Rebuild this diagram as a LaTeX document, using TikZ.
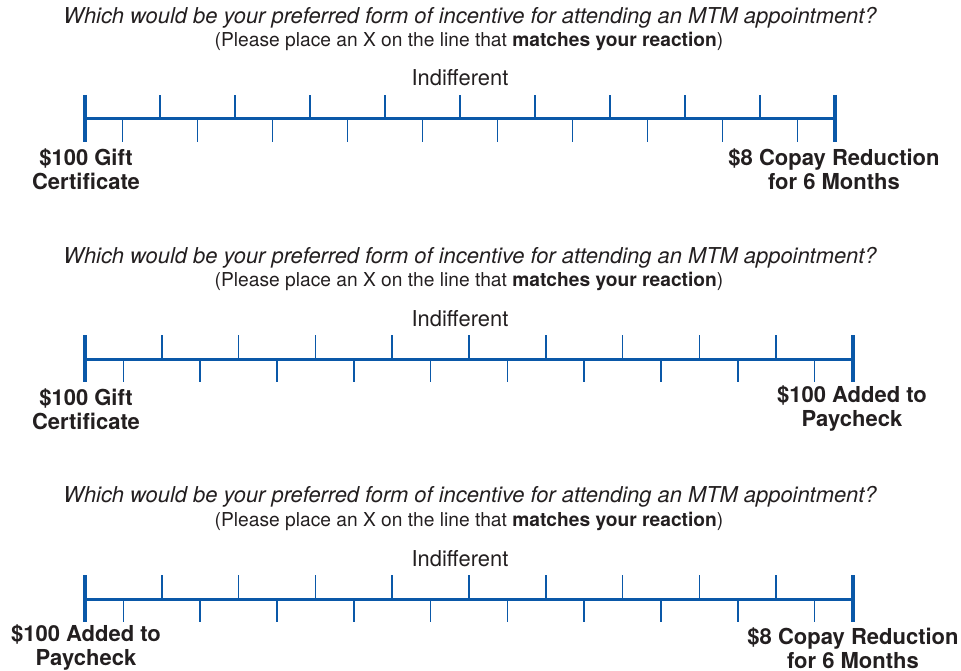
\documentclass[tikz,border=0pt]{standalone}
\usepackage{fontspec}
\setmainfont{TeX Gyre Heros}
\usetikzlibrary{calc}
\definecolor{scaleblue}{RGB}{10,88,168}
\definecolor{inktext}{RGB}{35,31,32}

\begin{document}
\begin{tikzpicture}[
    x=1pt, y=-1pt,
    question/.style={font=\fontsize{21.9}{25}\selectfont\itshape, text=inktext, inner sep=0pt},
    hint/.style={font=\fontsize{19.2}{22}\selectfont, text=inktext, inner sep=0pt},
    mid/.style={font=\fontsize{21.9}{25}\selectfont, text=inktext, inner sep=0pt},
    anchorlbl/.style={font=\fontsize{22}{24}\selectfont\bfseries, text=inktext, align=center, inner sep=0pt},
    axis/.style={draw=scaleblue, line width=3pt},
    endtick/.style={draw=scaleblue, line width=3.2pt},
    tick/.style={draw=scaleblue, line width=1.6pt}
]
\useasboundingbox (0,0) rectangle (961,671);

% Scale 1: Gift Certificate vs Copay Reduction
\node[question] (q1) at (470,18) {Which would be your preferred form of incentive for attending an MTM appointment?};
\node[hint] (h1) at (469,41) {(Please place an X on the line that \textbf{matches your reaction})};
\node[mid] (m1) at (460,78) {Indifferent};
\coordinate (s1_left) at (85,119);
\coordinate (s1_right) at (835,119);
\node[anchorlbl] (s1_lo) at (86,169) {\$100 Gift\\Certificate};
\node[anchorlbl] (s1_hi) at (834,169) {\$8 Copay Reduction\\for 6 Months};

\draw[axis] (s1_left) -- (s1_right);
\draw[endtick] ($(s1_left)+(0,-24)$) -- ($(s1_left)+(0,23)$);
\draw[endtick] ($(s1_right)+(0,-24)$) -- ($(s1_right)+(0,23)$);
\foreach \k in {2,4,...,18} \draw[tick] ($(s1_left)!\k/20!(s1_right)$) -- ++(0,-24);
\foreach \k in {1,3,...,19} \draw[tick] ($(s1_left)!\k/20!(s1_right)$) -- ++(0,23);

% Scale 2: Gift Certificate vs Paycheck
\node[question] (q2) at (470,258) {Which would be your preferred form of incentive for attending an MTM appointment?};
\node[hint] (h2) at (469,281) {(Please place an X on the line that \textbf{matches your reaction})};
\node[mid] (m2) at (460,319) {Indifferent};
\coordinate (s2_left) at (85,359);
\coordinate (s2_right) at (853,359);
\node[anchorlbl] (s2_lo) at (86,409) {\$100 Gift\\Certificate};
\node[anchorlbl] (s2_hi) at (852,409) {\$100 Added to\\Paycheck};

\draw[axis] (s2_left) -- (s2_right);
\draw[endtick] ($(s2_left)+(0,-24)$) -- ($(s2_left)+(0,23)$);
\draw[endtick] ($(s2_right)+(0,-24)$) -- ($(s2_right)+(0,23)$);
\foreach \k in {2,4,...,18} \draw[tick] ($(s2_left)!\k/20!(s2_right)$) -- ++(0,-24);
\foreach \k in {1,3,...,19} \draw[tick] ($(s2_left)!\k/20!(s2_right)$) -- ++(0,23);

% Scale 3: Paycheck vs Copay Reduction
\node[question] (q3) at (470,497) {Which would be your preferred form of incentive for attending an MTM appointment?};
\node[hint] (h3) at (469,521) {(Please place an X on the line that \textbf{matches your reaction})};
\node[mid] (m3) at (460,559) {Indifferent};
\coordinate (s3_left) at (85,599);
\coordinate (s3_right) at (853,599);
\node[anchorlbl] (s3_lo) at (86,648) {\$100 Added to\\Paycheck};
\node[anchorlbl] (s3_hi) at (853,648) {\$8 Copay Reduction\\for 6 Months};

\draw[axis] (s3_left) -- (s3_right);
\draw[endtick] ($(s3_left)+(0,-24)$) -- ($(s3_left)+(0,23)$);
\draw[endtick] ($(s3_right)+(0,-24)$) -- ($(s3_right)+(0,23)$);
\foreach \k in {2,4,...,18} \draw[tick] ($(s3_left)!\k/20!(s3_right)$) -- ++(0,-24);
\foreach \k in {1,3,...,19} \draw[tick] ($(s3_left)!\k/20!(s3_right)$) -- ++(0,23);

\end{tikzpicture}
\end{document}
